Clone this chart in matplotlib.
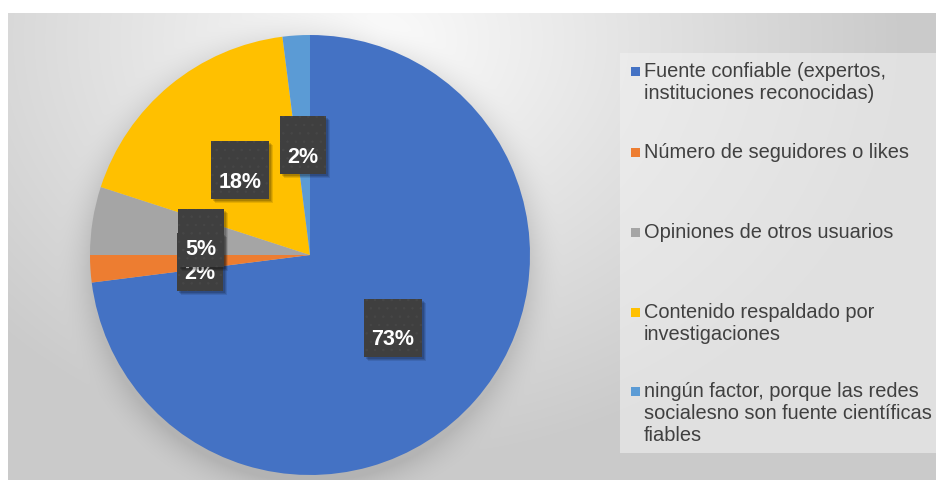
import numpy as np
import matplotlib
matplotlib.use("Agg")
import matplotlib.pyplot as plt
from matplotlib.patches import Rectangle

# ---- data ----
categories = [
    "Fuente confiable (expertos,\ninstituciones reconocidas)",
    "Número de seguidores o likes",
    "Opiniones de otros usuarios",
    "Contenido respaldado por\ninvestigaciones",
    "ningún factor, porque las redes\nsocialesno son fuente científicas\nfiables",
]
values = [73, 2, 5, 18, 2]
colors = ["#4472C4", "#ED7D31", "#A5A5A5", "#FFC000", "#5B9BD5"]

plt.rcParams["hatch.linewidth"] = 0.5

W, H = 937, 480
fig = plt.figure(figsize=(W / 100, H / 100), dpi=100)
fig.patch.set_facecolor("white")

# ---- background (pixel coords, y downward) ----
bg = fig.add_axes([0, 0, 1, 1])
bg.set_xlim(0, W)
bg.set_ylim(H, 0)
bg.axis("off")
x0, y0 = 8, 13
xs = np.arange(x0, W) + 0.5
ys = np.arange(y0, H) + 0.5
X, Y = np.meshgrid(xs, ys)
d = np.clip(np.sqrt(((X - 380) / 520) ** 2 + ((Y - 40) / 420) ** 2), 0, 1)
b = 0.985 - 0.19 * d
# soft pie shadow
cx, cy, R = 310, 255, 220
ds = np.sqrt((X - cx) ** 2 + (Y - (cy + 7)) ** 2) - R
shadow = 0.09 * np.clip(1 - ds / 35, 0, 1) ** 2
b = b - shadow
img = np.dstack([b, b, b])
bg.imshow(img, extent=(x0, W, H, y0), interpolation="bilinear", zorder=0)

# legend background
bg.add_patch(Rectangle((620, 53), W - 620, 400, facecolor="#f0f0f0",
                       alpha=0.6, edgecolor="none", zorder=1))

# ---- pie (pixel coords, y upward) ----
ax = fig.add_axes([0, 0, 1, 1])
ax.patch.set_alpha(0)
wedges, texts, autotexts = ax.pie(
    values, colors=colors, startangle=90, counterclock=False,
    radius=R, center=(cx, H - cy), autopct=lambda p: f"{p:.0f}%",
    pctdistance=0.5, wedgeprops=dict(linewidth=0),
)
ax.set_xlim(0, W)
ax.set_ylim(0, H)
ax.set_aspect("auto")
ax.axis("off")

for i, t in enumerate(autotexts):
    px, py = t.get_position()
    s = t.get_text()
    bw = 58 if len(s) > 2 else 46
    bh = 58
    z = 5 + i * 3
    for k, a in enumerate([0.10, 0.12, 0.15]):
        off = 4 - k
        ax.add_patch(Rectangle((px - bw / 2 + off, py - bh / 2 - off), bw, bh,
                               facecolor="black", alpha=a, edgecolor="none",
                               zorder=z))
    ax.add_patch(Rectangle((px - bw / 2, py - bh / 2), bw, bh,
                           facecolor="#3f3f3f", edgecolor="#474747",
                           hatch="..", linewidth=0, zorder=z + 1))
    t.set_position((px, py - 12))
    t.set_color("white")
    t.set_fontsize(15.5)
    t.set_fontweight("bold")
    t.set_family("Liberation Sans")
    t.set_va("center")
    t.set_ha("center")
    t.set_zorder(z + 2)

# ---- legend (manual, pixel coords y downward) ----
leg_y = [71.5, 152, 232, 312, 392]
for c, lab, ly in zip(colors, categories, leg_y):
    bg.add_patch(Rectangle((631, ly - 4.5), 9, 9, facecolor=c,
                           edgecolor="none", zorder=3))
    for j, line in enumerate(lab.split("\n")):
        bg.text(644, ly + j * 22, line, fontsize=14.4,
                family="Liberation Sans", color="#404040",
                va="center", ha="left", zorder=3)

fig.savefig("out.png", dpi=100)
